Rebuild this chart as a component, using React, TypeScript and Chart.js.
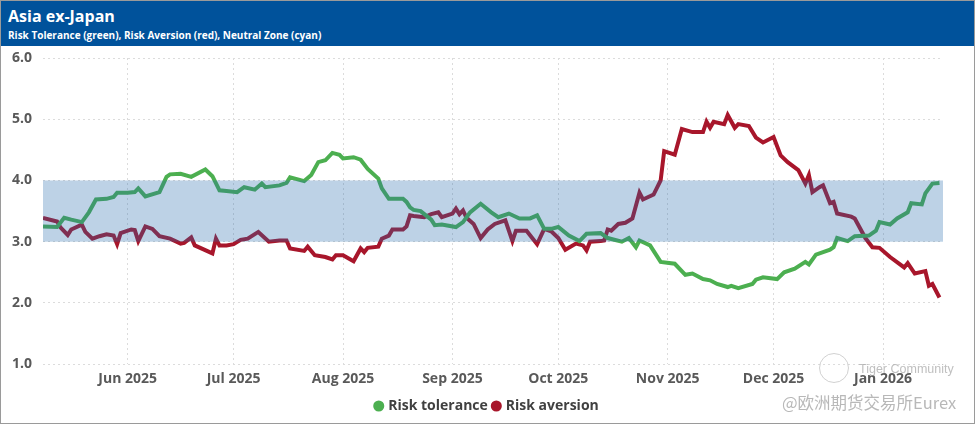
import React, { useEffect, useRef } from "react";
import { Chart, registerables } from "chart.js";

Chart.register(...registerables);

const TITLE = "Asia ex-Japan";
const SUBTITLE = "Risk Tolerance (green), Risk Aversion (red), Neutral Zone (cyan)";

const seriesNames = ["Risk tolerance", "Risk aversion"];

const toleranceDates = [
  "2025-05-08", "2025-05-12", "2025-05-14", "2025-05-16", "2025-05-19", "2025-05-21", "2025-05-23", "2025-05-26",
  "2025-05-28", "2025-05-29", "2025-06-01", "2025-06-03", "2025-06-04", "2025-06-06", "2025-06-10", "2025-06-12",
  "2025-06-13", "2025-06-16", "2025-06-19", "2025-06-23", "2025-06-25", "2025-06-27", "2025-06-29", "2025-07-02",
  "2025-07-04", "2025-07-07", "2025-07-09", "2025-07-10", "2025-07-14", "2025-07-16", "2025-07-17", "2025-07-21",
  "2025-07-23", "2025-07-25", "2025-07-27", "2025-07-29", "2025-07-31", "2025-08-01", "2025-08-04", "2025-08-06",
  "2025-08-08", "2025-08-11", "2025-08-12", "2025-08-14", "2025-08-18", "2025-08-19", "2025-08-20", "2025-08-21",
  "2025-08-23", "2025-08-26", "2025-08-27", "2025-08-29", "2025-09-02", "2025-09-04", "2025-09-06", "2025-09-09",
  "2025-09-12", "2025-09-14", "2025-09-17", "2025-09-20", "2025-09-23", "2025-09-25", "2025-09-27", "2025-09-29",
  "2025-10-01", "2025-10-04", "2025-10-07", "2025-10-09", "2025-10-13", "2025-10-15", "2025-10-19", "2025-10-21",
  "2025-10-23", "2025-10-24", "2025-10-27", "2025-10-30", "2025-11-03", "2025-11-06", "2025-11-08", "2025-11-11",
  "2025-11-13", "2025-11-15", "2025-11-18", "2025-11-19", "2025-11-21", "2025-11-25", "2025-11-26", "2025-11-28",
  "2025-12-02", "2025-12-04", "2025-12-07", "2025-12-10", "2025-12-11", "2025-12-13", "2025-12-17", "2025-12-18",
  "2025-12-19", "2025-12-22", "2025-12-24", "2025-12-28", "2025-12-30", "2025-12-31", "2026-01-03", "2026-01-05",
  "2026-01-08", "2026-01-09", "2026-01-12", "2026-01-13", "2026-01-15", "2026-01-17",
];
const toleranceValues = [
  3.25, 3.24, 3.39, 3.36, 3.32, 3.48, 3.69, 3.70,
  3.73, 3.80, 3.80, 3.81, 3.87, 3.74, 3.81, 4.06,
  4.10, 4.11, 4.06, 4.18, 4.07, 3.84, 3.83, 3.81,
  3.89, 3.85, 3.95, 3.89, 3.92, 3.96, 4.05, 3.99,
  4.09, 4.30, 4.33, 4.45, 4.42, 4.36, 4.38, 4.34,
  4.19, 4.03, 3.87, 3.70, 3.70, 3.65, 3.56, 3.52,
  3.50, 3.36, 3.27, 3.28, 3.24, 3.32, 3.48, 3.62,
  3.48, 3.40, 3.46, 3.38, 3.38, 3.43, 3.21, 3.21,
  3.24, 3.10, 3.01, 3.13, 3.14, 3.06, 3.00, 3.06,
  2.91, 3.02, 2.94, 2.67, 2.64, 2.46, 2.48, 2.39,
  2.37, 2.31, 2.26, 2.28, 2.24, 2.31, 2.38, 2.42,
  2.39, 2.50, 2.56, 2.67, 2.63, 2.79, 2.87, 2.91,
  3.06, 3.01, 3.09, 3.10, 3.18, 3.32, 3.28, 3.38,
  3.48, 3.63, 3.61, 3.79, 3.95, 3.96,
];

const aversionDates = [
  "2025-05-08", "2025-05-12", "2025-05-13", "2025-05-15", "2025-05-16", "2025-05-19", "2025-05-20", "2025-05-22",
  "2025-05-24", "2025-05-26", "2025-05-28", "2025-05-29", "2025-05-30", "2025-06-02", "2025-06-03", "2025-06-04",
  "2025-06-06", "2025-06-08", "2025-06-10", "2025-06-13", "2025-06-16", "2025-06-17", "2025-06-19", "2025-06-20",
  "2025-06-25", "2025-06-26", "2025-06-27", "2025-06-29", "2025-07-01", "2025-07-03", "2025-07-05", "2025-07-08",
  "2025-07-11", "2025-07-14", "2025-07-16", "2025-07-17", "2025-07-21", "2025-07-22", "2025-07-24", "2025-07-27",
  "2025-07-29", "2025-07-30", "2025-08-01", "2025-08-04", "2025-08-06", "2025-08-07", "2025-08-08", "2025-08-11",
  "2025-08-12", "2025-08-14", "2025-08-15", "2025-08-18", "2025-08-19", "2025-08-20", "2025-08-21", "2025-08-24",
  "2025-08-26", "2025-08-28", "2025-08-29", "2025-09-01", "2025-09-02", "2025-09-03", "2025-09-04", "2025-09-05",
  "2025-09-07", "2025-09-09", "2025-09-11", "2025-09-13", "2025-09-16", "2025-09-18", "2025-09-19", "2025-09-22",
  "2025-09-25", "2025-09-27", "2025-09-29", "2025-10-01", "2025-10-03", "2025-10-06", "2025-10-08", "2025-10-09",
  "2025-10-10", "2025-10-13", "2025-10-14", "2025-10-15", "2025-10-16", "2025-10-18", "2025-10-20", "2025-10-22",
  "2025-10-24", "2025-10-25", "2025-10-28", "2025-10-30", "2025-10-31", "2025-11-03", "2025-11-05", "2025-11-08",
  "2025-11-11", "2025-11-12", "2025-11-13", "2025-11-14", "2025-11-17", "2025-11-18", "2025-11-20", "2025-11-21",
  "2025-11-24", "2025-11-26", "2025-11-28", "2025-12-01", "2025-12-03", "2025-12-05", "2025-12-08", "2025-12-10",
  "2025-12-11", "2025-12-12", "2025-12-14", "2025-12-15", "2025-12-17", "2025-12-18", "2025-12-19", "2025-12-23",
  "2025-12-24", "2025-12-27", "2025-12-29", "2025-12-31", "2026-01-03", "2026-01-07", "2026-01-08", "2026-01-10",
  "2026-01-13", "2026-01-14", "2026-01-15", "2026-01-17",
];
const aversionValues = [
  3.39, 3.33, 3.23, 3.11, 3.20, 3.28, 3.16, 3.05,
  3.09, 3.12, 3.10, 2.96, 3.14, 3.20, 3.19, 3.01,
  3.25, 3.21, 3.09, 3.05, 2.97, 2.98, 3.07, 2.94,
  2.81, 3.05, 2.94, 2.94, 2.96, 3.03, 3.05, 3.16,
  3.00, 3.02, 3.02, 2.89, 2.85, 2.92, 2.78, 2.75,
  2.71, 2.78, 2.78, 2.68, 2.89, 2.83, 2.90, 2.92,
  3.05, 3.10, 3.20, 3.20, 3.25, 3.43, 3.42, 3.40,
  3.45, 3.48, 3.40, 3.46, 3.54, 3.45, 3.51, 3.39,
  3.29, 3.06, 3.20, 3.29, 3.35, 3.01, 3.18, 3.18,
  2.96, 3.21, 3.17, 3.06, 2.87, 2.97, 2.94, 2.86,
  3.00, 3.01, 3.02, 3.20, 3.18, 3.29, 3.31, 3.38,
  3.80, 3.69, 3.77, 4.00, 4.48, 4.42, 4.84, 4.79,
  4.79, 4.96, 4.86, 4.96, 4.92, 5.07, 4.86, 4.92,
  4.89, 4.70, 4.62, 4.71, 4.41, 4.30, 4.17, 3.95,
  4.09, 3.81, 3.89, 3.92, 3.63, 3.65, 3.46, 3.41,
  3.38, 3.06, 2.91, 2.90, 2.75, 2.58, 2.65, 2.48,
  2.52, 2.28, 2.31, 2.09,
];

const monthTicks = ["2025-06-01", "2025-07-01", "2025-08-01", "2025-09-01", "2025-10-01", "2025-11-01", "2025-12-01", "2026-01-01"];
const monthLabels = ["Jun 2025", "Jul 2025", "Aug 2025", "Sep 2025", "Oct 2025", "Nov 2025", "Dec 2025", "Jan 2026"];

const X_MIN = "2025-05-08";
const X_MAX = "2026-01-18";
const NEUTRAL_LOW = 3;
const NEUTRAL_HIGH = 4;
const Y_MIN = 1;
const Y_MAX = 6;

const ts = (d: string) => new Date(d + "T00:00:00Z").getTime();

const FONT = "'Open Sans', 'Noto Sans', sans-serif";

export default function App() {
  const canvasRef = useRef<HTMLCanvasElement | null>(null);

  useEffect(() => {
    if (!canvasRef.current) return;
    const bandPlugin = {
      id: "neutralBand",
      afterDatasetsDraw(chart: any) {
        const { ctx, chartArea, scales } = chart;
        const yTop = scales.y.getPixelForValue(NEUTRAL_HIGH);
        const yBot = scales.y.getPixelForValue(NEUTRAL_LOW);
        ctx.save();
        ctx.fillStyle = "rgba(38,105,172,0.3)";
        ctx.fillRect(chartArea.left, yTop, chartArea.right - chartArea.left, yBot - yTop);
        ctx.restore();
      },
    };
    const chart = new Chart(canvasRef.current, {
      type: "line",
      data: {
        datasets: [
          {
            label: seriesNames[0],
            data: toleranceDates.map((d, i) => ({ x: ts(d), y: toleranceValues[i] })),
            borderColor: "rgb(76,175,80)",
            backgroundColor: "rgb(76,175,80)",
            borderWidth: 4,
            pointRadius: 0,
            tension: 0,
          },
          {
            label: seriesNames[1],
            data: aversionDates.map((d, i) => ({ x: ts(d), y: aversionValues[i] })),
            borderColor: "rgb(168,22,43)",
            backgroundColor: "rgb(168,22,43)",
            borderWidth: 4,
            pointRadius: 0,
            tension: 0,
          },
        ],
      },
      options: {
        animation: false,
        responsive: false,
        maintainAspectRatio: false,
        layout: { padding: { left: 0, right: 0, top: 6, bottom: 0 } },
        plugins: {
          legend: {
            position: "bottom",
            labels: {
              usePointStyle: true,
              pointStyle: "circle",
              boxWidth: 5,
              boxHeight: 5,
              padding: 6,
              color: "#404040",
              font: { family: FONT, size: 14, weight: "bold" },
            },
          },
          tooltip: { enabled: false },
        },
        scales: {
          x: {
            type: "linear",
            min: ts(X_MIN),
            max: ts(X_MAX),
            afterBuildTicks: (scale: any) => {
              scale.ticks = monthTicks.map((d) => ({ value: ts(d) }));
            },
            ticks: {
              autoSkip: false,
              maxRotation: 0,
              padding: 6,
              color: "#595959",
              font: { family: FONT, size: 14, weight: "bold" },
              callback: (value: any) => {
                const idx = monthTicks.findIndex((d) => ts(d) === value);
                return idx >= 0 ? monthLabels[idx] : "";
              },
            },
            grid: { color: "#dcdcdc", lineWidth: 1, drawTicks: false },
            border: { display: false, dash: [2, 3] },
          },
          y: {
            min: Y_MIN,
            max: Y_MAX,
            afterFit: (scale: any) => {
              scale.width = 42;
              scale.paddingTop = 12;
            },
            ticks: {
              stepSize: 1,
              padding: 11,
              color: "#595959",
              font: { family: FONT, size: 14, weight: "bold" },
              callback: (value: any) => Number(value).toFixed(1),
            },
            grid: { color: "#dcdcdc", lineWidth: 1, drawTicks: false },
            border: { display: false, dash: [2, 3] },
          },
          yRight: {
            position: "right",
            min: Y_MIN,
            max: Y_MAX,
            afterFit: (scale: any) => {
              scale.width = 31;
              scale.paddingTop = 12;
            },
            ticks: { display: false },
            grid: { display: false, drawTicks: false },
            border: { display: false },
          },
        },
      },
      plugins: [bandPlugin],
    });
    return () => chart.destroy();
  }, []);

  return (
    <div
      style={{
        position: "absolute",
        left: 0,
        top: 0,
        width: 975,
        height: 424,
        boxSizing: "border-box",
        border: "1px solid #9a9a9a",
        background: "#fff",
        fontFamily: FONT,
        overflow: "hidden",
      }}
    >
      <div style={{ height: 45, background: "rgb(0,82,155)", color: "#fff", paddingLeft: 7, boxSizing: "border-box" }}>
        <div style={{ fontSize: 16, fontWeight: 700, lineHeight: "20px", paddingTop: 5 }}>{TITLE}</div>
        <div style={{ fontSize: 10, fontWeight: 700, lineHeight: "12px", paddingTop: 3 }}>{SUBTITLE}</div>
      </div>
      <canvas ref={canvasRef} width={973} height={377} style={{ display: "block", width: 973, height: 377 }} />
      <div style={{ position: "absolute", left: 818, top: 352, width: 28, height: 28, borderRadius: "50%", border: "1.5px solid rgba(190,190,190,0.7)" }} />
      <div style={{ position: "absolute", left: 858, top: 361, fontSize: 12.5, color: "rgba(170,170,170,0.75)", fontFamily: "'Liberation Sans', sans-serif" }}>Tiger Community</div>
      <div style={{ position: "absolute", left: 781, top: 389, fontSize: 16.5, color: "rgba(160,160,160,0.75)", fontFamily: "'Noto Sans CJK SC', sans-serif" }}>@欧洲期货交易所Eurex</div>
    </div>
  );
}
